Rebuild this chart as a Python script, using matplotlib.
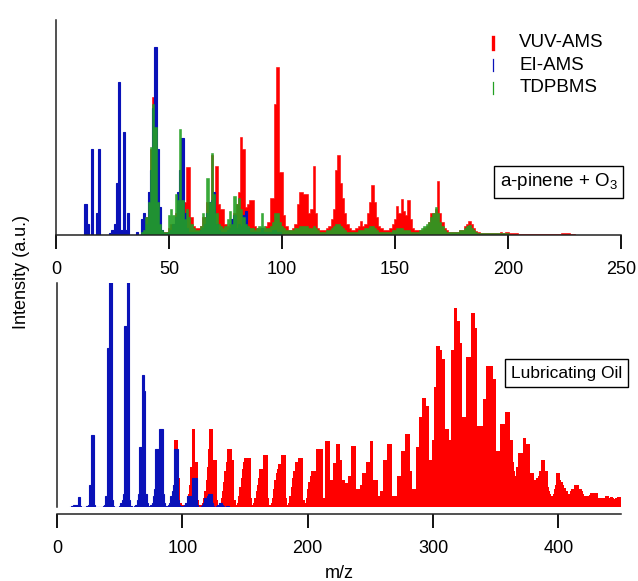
import numpy as np
import matplotlib
matplotlib.use("Agg")
import matplotlib.pyplot as plt

plt.rcParams['font.family'] = ['Liberation Sans', 'DejaVu Sans']
plt.rcParams['mathtext.default'] = 'regular'

# --- a-pinene + O3 spectra (top panel), intensity as fraction of axis height ---
# VUV-AMS and TDPBMS listed for m/z 38..230
pinene_start = 38
vuv_pinene = [
    0.01, 0.03,
    0.08, 0.20, 0.40, 0.64, 0.45, 0.20, 0.05, 0.02, 0.01, 0.01,
    0.03, 0.05, 0.05, 0.10, 0.15, 0.30, 0.20, 0.15, 0.315, 0.315,
    0.08, 0.04, 0.03, 0.03, 0.04, 0.08, 0.08, 0.15, 0.15, 0.37,
    0.15, 0.32, 0.14, 0.12, 0.12, 0.05, 0.04, 0.05, 0.06, 0.10,
    0.14, 0.20, 0.455, 0.40, 0.13, 0.14, 0.16, 0.16, 0.04, 0.03,
    0.03, 0.03, 0.03, 0.04, 0.06, 0.17, 0.17, 0.61, 0.78, 0.29,
    0.29, 0.09, 0.04, 0.02, 0.02, 0.03, 0.05, 0.14, 0.20, 0.20,
    0.19, 0.19, 0.10, 0.12, 0.32, 0.10, 0.03, 0.02, 0.02, 0.02,
    0.03, 0.04, 0.07, 0.12, 0.30, 0.37, 0.24, 0.17, 0.10, 0.05,
    0.03, 0.02, 0.02, 0.03, 0.04, 0.065, 0.04, 0.05, 0.10, 0.15,
    0.23, 0.15, 0.08, 0.04, 0.03, 0.02, 0.02, 0.02, 0.03, 0.05,
    0.07, 0.135, 0.10, 0.165, 0.11, 0.09, 0.16, 0.07, 0.03, 0.02,
    0.02, 0.02, 0.02, 0.03, 0.04, 0.06, 0.10, 0.10, 0.12, 0.25,
    0.10, 0.06, 0.03, 0.02, 0.01, 0.01, 0.01, 0.01, 0.01, 0.02,
    0.02, 0.04, 0.05, 0.065, 0.05, 0.03, 0.015, 0.01, 0.005, 0.005,
    0.005, 0.005, 0.005, 0.005, 0.005, 0.005, 0.008, 0.01, 0.008, 0.01,
    0.01, 0.005, 0.005, 0.005, 0.005, 0.003, 0.003, 0.003, 0.003, 0.003,
    0.003, 0.003, 0.003, 0.003, 0.003, 0.003, 0.003, 0.003, 0.003, 0.003,
    0.003, 0.003, 0.003, 0.003, 0.005, 0.008, 0.008, 0.005, 0.003, 0.003,
    0.0,
]
tdpbms_pinene = [
    0.01, 0.02,
    0.08, 0.15, 0.41, 0.61, 0.50, 0.15, 0.05, 0.02, 0.01, 0.01,
    0.09, 0.12, 0.09, 0.19, 0.16, 0.49, 0.16, 0.07, 0.12, 0.08,
    0.05, 0.03, 0.02, 0.02, 0.04, 0.10, 0.08, 0.265, 0.15, 0.38,
    0.19, 0.10, 0.05, 0.04, 0.03, 0.04, 0.07, 0.11, 0.05, 0.18,
    0.14, 0.17, 0.12, 0.08, 0.05, 0.04, 0.03, 0.03, 0.02, 0.03,
    0.04, 0.10, 0.04, 0.03, 0.03, 0.04, 0.06, 0.10, 0.10, 0.06,
    0.04, 0.03, 0.02, 0.02, 0.02, 0.02, 0.03, 0.03, 0.04, 0.04,
    0.04, 0.04, 0.03, 0.03, 0.04, 0.03, 0.02, 0.01, 0.01, 0.01,
    0.02, 0.02, 0.03, 0.04, 0.05, 0.05, 0.04, 0.03, 0.02, 0.01,
    0.01, 0.01, 0.01, 0.01, 0.02, 0.02, 0.02, 0.03, 0.03, 0.04,
    0.04, 0.03, 0.02, 0.01, 0.01, 0.01, 0.01, 0.01, 0.01, 0.02,
    0.02, 0.03, 0.03, 0.03, 0.02, 0.02, 0.02, 0.01, 0.01, 0.01,
    0.01, 0.02, 0.03, 0.04, 0.05, 0.06, 0.08, 0.10, 0.13, 0.10,
    0.06, 0.04, 0.02, 0.01, 0.01, 0.01, 0.01, 0.01, 0.01, 0.02,
    0.02, 0.03, 0.04, 0.045, 0.03, 0.02, 0.01, 0.005, 0.005, 0.005,
    0.005, 0.005, 0.005, 0.005, 0.005, 0.005, 0.005, 0.008, 0.008, 0.005,
    0.005,
]
# EI-AMS listed for m/z 12..99
ei_pinene_start = 12
ei_pinene = [
    0.0, 0.14, 0.05, 0.0, 0.40, 0.0, 0.10, 0.40,
    0.0, 0.0, 0.0, 0.0, 0.005, 0.02, 0.05, 0.24, 0.71, 0.02,
    0.48, 0.02, 0.10, 0.0, 0.0, 0.0, 0.01, 0.0, 0.07, 0.10,
    0.05, 0.20, 0.30, 0.59, 0.875, 0.40, 0.13, 0.02, 0.005, 0.005,
    0.01, 0.02, 0.05, 0.08, 0.20, 0.30, 0.45, 0.10, 0.03, 0.01,
    0.01, 0.01, 0.01, 0.01, 0.02, 0.03, 0.05, 0.10, 0.15, 0.16,
    0.20, 0.05, 0.02, 0.01, 0.01, 0.01, 0.02, 0.03, 0.07, 0.09,
    0.03, 0.05, 0.04, 0.09, 0.11, 0.03, 0.01, 0.01, 0.01, 0.01,
    0.01, 0.03, 0.01, 0.01, 0.01, 0.01, 0.02, 0.02, 0.01, 0.01,
]

# --- lubricating oil spectra (bottom panel) ---
oil_vuv_start = 90
vuv_oil = [
    0.00, 0.01, 0.03, 0.10, 0.30, 0.30, 0.30, 0.13, 0.13, 0.02,
    0.01, 0.01, 0.01, 0.02, 0.03, 0.06, 0.10, 0.18, 0.347, 0.347,
    0.347, 0.20, 0.20, 0.03, 0.01, 0.01, 0.02, 0.04, 0.07, 0.12,
    0.18, 0.26, 0.35, 0.35, 0.35, 0.21, 0.21, 0.21, 0.03, 0.01,
    0.02, 0.04, 0.07, 0.11, 0.16, 0.20, 0.26, 0.26, 0.26, 0.26,
    0.21, 0.21, 0.03, 0.01, 0.02, 0.05, 0.09, 0.13, 0.17, 0.20,
    0.22, 0.22, 0.22, 0.22, 0.22, 0.04, 0.01, 0.02, 0.04, 0.07,
    0.10, 0.13, 0.17, 0.17, 0.17, 0.23, 0.23, 0.23, 0.23, 0.04,
    0.01, 0.02, 0.04, 0.08, 0.12, 0.15, 0.17, 0.19, 0.19, 0.23,
    0.23, 0.23, 0.23, 0.04, 0.01, 0.02, 0.05, 0.09, 0.13, 0.16,
    0.20, 0.20, 0.20, 0.22, 0.22, 0.22, 0.22, 0.03, 0.02, 0.04,
    0.08, 0.11, 0.14, 0.16, 0.16, 0.16, 0.16, 0.26, 0.26, 0.26,
    0.26, 0.26, 0.26, 0.04, 0.296, 0.296, 0.296, 0.296, 0.12, 0.12,
    0.12, 0.195, 0.195, 0.28, 0.28, 0.28, 0.21, 0.21, 0.12, 0.12,
    0.105, 0.105, 0.105, 0.14, 0.14, 0.274, 0.274, 0.274, 0.274, 0.08,
    0.08, 0.08, 0.10, 0.10, 0.15, 0.15, 0.15, 0.20, 0.20, 0.20,
    0.295, 0.295, 0.295, 0.12, 0.12, 0.12, 0.12, 0.05, 0.07, 0.07,
    0.07, 0.21, 0.21, 0.21, 0.28, 0.28, 0.28, 0.28, 0.05, 0.05,
    0.05, 0.05, 0.14, 0.14, 0.14, 0.25, 0.25, 0.25, 0.326, 0.326,
    0.326, 0.326, 0.16, 0.16, 0.08, 0.08, 0.08, 0.27, 0.27, 0.40,
    0.40, 0.40, 0.485, 0.485, 0.485, 0.45, 0.45, 0.21, 0.21, 0.21,
    0.30, 0.537, 0.537, 0.72, 0.72, 0.72, 0.70, 0.70, 0.66, 0.66,
    0.35, 0.35, 0.35, 0.30, 0.30, 0.70, 0.70, 0.89, 0.89, 0.89,
    0.83, 0.83, 0.73, 0.73, 0.40, 0.40, 0.40, 0.67, 0.67, 0.67,
    0.67, 0.865, 0.865, 0.865, 0.80, 0.80, 0.36, 0.36, 0.36, 0.36,
    0.48, 0.48, 0.48, 0.63, 0.63, 0.63, 0.63, 0.63, 0.57, 0.57,
    0.57, 0.25, 0.25, 0.25, 0.37, 0.37, 0.37, 0.37, 0.425, 0.425,
    0.425, 0.425, 0.30, 0.30, 0.20, 0.16, 0.14, 0.18, 0.24, 0.24,
    0.24, 0.24, 0.31, 0.31, 0.31, 0.28, 0.28, 0.28, 0.15, 0.15,
    0.15, 0.12, 0.12, 0.13, 0.14, 0.16, 0.16, 0.21, 0.21, 0.21,
    0.16, 0.16, 0.09, 0.07, 0.06, 0.05, 0.06, 0.08, 0.10, 0.15,
    0.15, 0.15, 0.12, 0.11, 0.10, 0.085, 0.085, 0.07, 0.06, 0.06,
    0.07, 0.08, 0.08, 0.098, 0.098, 0.098, 0.098, 0.08, 0.08, 0.07,
    0.06, 0.05, 0.05, 0.05, 0.05, 0.055, 0.062, 0.062, 0.062, 0.062,
    0.062, 0.062, 0.04, 0.04, 0.04, 0.04, 0.04, 0.04, 0.05, 0.05,
    0.05, 0.04, 0.045, 0.045, 0.04, 0.035, 0.04, 0.045, 0.045, 0.045,
    0.045, 0.04, 0.035,
]
oil_ei_start = 10
ei_oil = [
    0.0, 0.0, 0.005, 0.01, 0.01, 0.01, 0.01, 0.046, 0.046, 0.005,
    0.0, 0.0, 0.0, 0.0, 0.005, 0.01, 0.10, 0.10, 0.32, 0.32,
    0.01, 0.0, 0.0, 0.0, 0.0, 0.0, 0.0, 0.005, 0.01, 0.05,
    0.71, 0.71, 1.05, 1.05, 0.03, 0.005, 0.0, 0.0, 0.0, 0.0,
    0.005, 0.02, 0.03, 0.06, 0.81, 0.81, 1.05, 1.05, 0.03, 0.005,
    0.0, 0.0, 0.005, 0.01, 0.03, 0.06, 0.27, 0.27, 0.59, 0.59,
    0.52, 0.06, 0.02, 0.005, 0.0, 0.01, 0.02, 0.05, 0.08, 0.26,
    0.26, 0.26, 0.35, 0.35, 0.35, 0.06, 0.02, 0.005, 0.0, 0.01,
    0.02, 0.05, 0.07, 0.10, 0.26, 0.26, 0.26, 0.03, 0.01, 0.005,
    0.0, 0.005, 0.01, 0.02, 0.05, 0.05, 0.05, 0.05, 0.13, 0.13,
    0.13, 0.13, 0.01, 0.0, 0.0, 0.005, 0.01, 0.02, 0.04, 0.04,
    0.05, 0.06, 0.06, 0.06, 0.02, 0.005, 0.0, 0.005, 0.01, 0.01,
    0.02, 0.02, 0.01, 0.005, 0.0, 0.005, 0.005, 0.005, 0.0, 0.0,
]

RED = '#ff0000'
BLUE = '#0a12b8'
GREEN = '#23a023'
FS = 13


def mz_edges(start, values):
    # one bin per unit m/z, centred on the integer mass
    return np.arange(start - 0.5, start + len(values) + 0.5)


def spectrum(ax, start, values, color, lw=0.0, **kw):
    ax.stairs(values, mz_edges(start, values), fill=True, facecolor=color,
              edgecolor=color, linewidth=lw, baseline=0, **kw)


fig = plt.figure(figsize=(6.38, 5.81), dpi=100)
ax_top = fig.add_axes([56 / 638, 1 - 234.5 / 581, 565 / 638, 214.5 / 581])
ax_bot = fig.add_axes([57 / 638, 1 - 507 / 581, 564 / 638, 224 / 581])

# top panel: a-pinene + O3
spectrum(ax_top, pinene_start, vuv_pinene, RED, 0.4)
spectrum(ax_top, ei_pinene_start, ei_pinene, BLUE, 0.8)
spectrum(ax_top, pinene_start, tdpbms_pinene, GREEN, 0.4, alpha=0.9)
ax_top.set_xlim(0, 250)
ax_top.set_ylim(0, 1.0)
ax_top.set_xticks([0, 50, 100, 150, 200, 250])

# bottom panel: lubricating oil
spectrum(ax_bot, oil_vuv_start, vuv_oil, RED)
spectrum(ax_bot, oil_ei_start, ei_oil, BLUE, 0.8)
ax_bot.set_xlim(0, 450)
ax_bot.set_ylim(0, 1.0)
ax_bot.set_xticks([0, 100, 200, 300, 400])
ax_bot.spines['bottom'].set_position(('outward', 5))

for ax in (ax_top, ax_bot):
    for side in ('top', 'right'):
        ax.spines[side].set_visible(False)
    for side in ('left', 'bottom'):
        ax.spines[side].set_linewidth(1.1)
        ax.spines[side].set_color('#222222')
    ax.set_yticks([])
    ax.tick_params(axis='x', direction='out', length=10, width=1.4, pad=9,
                   labelsize=FS, color='#111111')

# legend drawn by hand (short vertical bar markers)
legend_rows = [('VUV-AMS', RED, 2.4), ('EI-AMS', BLUE, 0.9), ('TDPBMS', GREEN, 0.9)]
for i, (name, col, lw) in enumerate(legend_rows):
    y = 0.893 - i * 0.105
    ax_top.plot([0.773, 0.773], [y - 0.028, y + 0.028], color=col, lw=lw,
                transform=ax_top.transAxes, clip_on=False)
    ax_top.text(0.82, y, name, transform=ax_top.transAxes, fontsize=FS + 0.5,
                va='center', ha='left')

ax_top.text(0.89, 0.245, 'a-pinene + O$_3$', transform=ax_top.transAxes, fontsize=FS + 0.5,
            ha='center', va='center',
            bbox=dict(boxstyle='square,pad=0.3', fc='white', ec='black', lw=1.0))
ax_bot.text(0.903, 0.598, 'Lubricating Oil', transform=ax_bot.transAxes, fontsize=FS - 0.5,
            ha='center', va='center',
            bbox=dict(boxstyle='square,pad=0.35', fc='white', ec='black', lw=1.0))

fig.text(22 / 638, 1 - 272 / 581, 'Intensity (a.u.)', rotation=90, fontsize=FS,
         ha='center', va='center')
fig.text(339 / 638, 1 - 565 / 581, 'm/z', fontsize=FS, ha='center', va='top')

fig.savefig('out.png', dpi=100)
